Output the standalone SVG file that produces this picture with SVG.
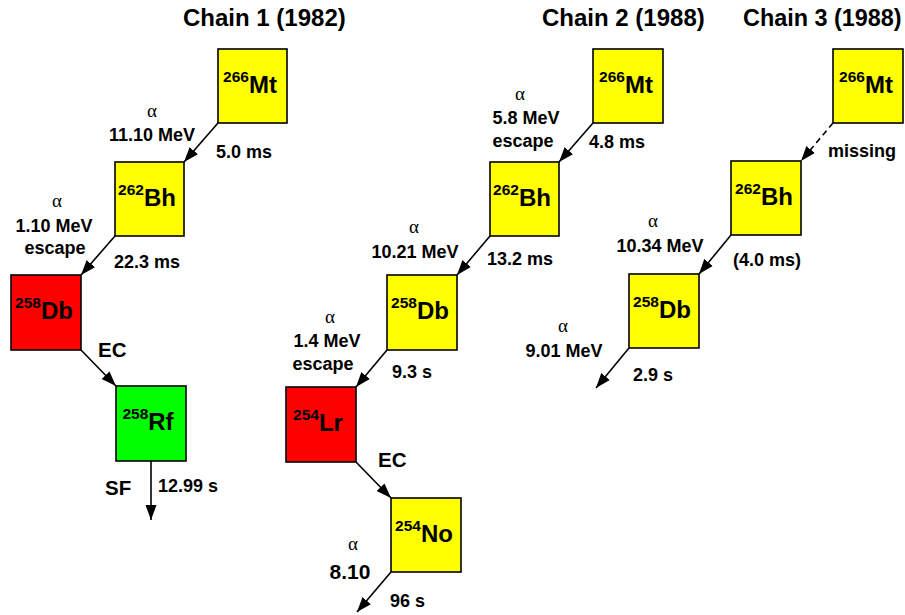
<svg xmlns="http://www.w3.org/2000/svg" width="905" height="615" viewBox="0 0 905 615">
<style>
text{font-family:"Liberation Sans",Arial,sans-serif;font-weight:bold;fill:#000}
.t{font-size:24px}
.l{font-size:18px}
.b{font-size:20.5px}
.m{text-anchor:middle}
.a{font-family:"Liberation Serif","Times New Roman",serif;font-weight:normal;font-size:19px;text-anchor:middle}
.box{stroke:#000;stroke-width:1.6}
.y{fill:#ffff00}.r{fill:#ff0000}.g{fill:#00ff00}
.n{font-size:24px;text-anchor:middle}
.s{font-size:15.5px}
.c line{stroke:#000;stroke-width:1.6;marker-end:url(#ah)}
.d{stroke-dasharray:6 4}
</style>
<defs>
<marker id="ah" markerUnits="userSpaceOnUse" markerWidth="16" markerHeight="12" viewBox="0 -6 16 12" refX="15" refY="0" orient="auto">
<path d="M0,-5.5 L15,0 L0,5.5 z" fill="#000"/>
</marker>
</defs>
<rect width="905" height="615" fill="#fff"/>
<text class="t" x="183" y="26">Chain 1 (1982)</text>
<text class="t" x="542" y="26">Chain 2 (1988)</text>
<text class="t" x="743" y="26" style="font-size:23.4px">Chain 3 (1988)</text>

<g id="c1-mt"><rect class="box y" x="218" y="49" width="69" height="74"/><text class="n" x="250" y="93"><tspan class="s" dy="-11">266</tspan><tspan dy="11">Mt</tspan></text></g>
<g id="c1-bh"><rect class="box y" x="115" y="162" width="69" height="74"/><text class="n" x="147" y="206"><tspan class="s" dy="-11">262</tspan><tspan dy="11">Bh</tspan></text></g>
<g id="c1-db"><rect class="box r" x="11" y="275" width="70" height="75"/><text class="n" x="44" y="319"><tspan class="s" dy="-11">258</tspan><tspan dy="11">Db</tspan></text></g>
<g id="c1-rf"><rect class="box g" x="116" y="386" width="70" height="75"/><text class="n" x="148" y="430"><tspan class="s" dy="-11">258</tspan><tspan dy="11">Rf</tspan></text></g>

<g id="c2-mt"><rect class="box y" x="593" y="49" width="70" height="74"/><text class="n" x="626" y="93"><tspan class="s" dy="-11">266</tspan><tspan dy="11">Mt</tspan></text></g>
<g id="c2-bh"><rect class="box y" x="490" y="162" width="69" height="74"/><text class="n" x="522" y="206"><tspan class="s" dy="-11">262</tspan><tspan dy="11">Bh</tspan></text></g>
<g id="c2-db"><rect class="box y" x="387" y="275" width="70" height="75"/><text class="n" x="420" y="319"><tspan class="s" dy="-11">258</tspan><tspan dy="11">Db</tspan></text></g>
<g id="c2-lr"><rect class="box r" x="286" y="387" width="70" height="75"/><text class="n" x="318" y="431"><tspan class="s" dy="-11">254</tspan><tspan dy="11">Lr</tspan></text></g>
<g id="c2-no"><rect class="box y" x="391" y="498" width="70" height="74"/><text class="n" x="424" y="542"><tspan class="s" dy="-11">254</tspan><tspan dy="11">No</tspan></text></g>

<g id="c3-mt"><rect class="box y" x="833" y="49" width="70" height="74"/><text class="n" x="866" y="93"><tspan class="s" dy="-11">266</tspan><tspan dy="11">Mt</tspan></text></g>
<g id="c3-bh"><rect class="box y" x="731" y="161" width="70" height="74"/><text class="n" x="764" y="205"><tspan class="s" dy="-11">262</tspan><tspan dy="11">Bh</tspan></text></g>
<g id="c3-db"><rect class="box y" x="629" y="274" width="70" height="74"/><text class="n" x="662" y="318"><tspan class="s" dy="-11">258</tspan><tspan dy="11">Db</tspan></text></g>

<g id="connectors" class="c">
<line x1="218" y1="123" x2="184" y2="162"/>
<line x1="115" y1="236" x2="81" y2="275"/>
<line x1="81" y1="350" x2="116" y2="386"/>
<line x1="151" y1="461" x2="151" y2="520"/>
<line x1="593" y1="123" x2="559" y2="162"/>
<line x1="490" y1="236" x2="457" y2="275"/>
<line x1="387" y1="350" x2="356" y2="387"/>
<line x1="356" y1="462" x2="391" y2="498"/>
<line x1="391" y1="572" x2="357" y2="612"/>
<line class="d" x1="833" y1="123" x2="801" y2="161"/>
<line x1="731" y1="235" x2="699" y2="274"/>
<line x1="629" y1="348" x2="596" y2="388"/>
</g>

<g id="labels">
<text class="a" x="152" y="117">α</text>
<text class="l m" x="152" y="141">11.10 MeV</text>
<text class="l" x="216" y="158">5.0 ms</text>
<text class="a" x="57" y="207">α</text>
<text class="l m" x="54" y="232">1.10 MeV</text>
<text class="l m" x="55" y="254">escape</text>
<text class="l" x="114" y="268">22.3 ms</text>
<text class="b" x="98" y="357">EC</text>
<text class="b" x="105" y="495">SF</text>
<text class="l" x="158" y="492">12.99 s</text>

<text class="a" x="520" y="100">α</text>
<text class="l m" x="526" y="124">5.8 MeV</text>
<text class="l m" x="523" y="147">escape</text>
<text class="l" x="589" y="148">4.8 ms</text>
<text class="a" x="414" y="233">α</text>
<text class="l m" x="415" y="258">10.21 MeV</text>
<text class="l" x="487" y="265">13.2 ms</text>
<text class="a" x="330" y="323">α</text>
<text class="l m" x="327" y="347">1.4 MeV</text>
<text class="l m" x="323" y="370">escape</text>
<text class="l" x="392" y="378">9.3 s</text>
<text class="b" x="378" y="467">EC</text>
<text class="a" x="353" y="550">α</text>
<text class="m" style="font-size:21px" x="350" y="579">8.10</text>
<text class="l" x="390" y="607">96 s</text>

<text class="l" x="828" y="157">missing</text>
<text class="a" x="653" y="227">α</text>
<text class="l m" x="660" y="252">10.34 MeV</text>
<text class="l" x="733" y="266">(4.0 ms)</text>
<text class="a" x="563" y="332">α</text>
<text class="l m" x="564" y="357">9.01 MeV</text>
<text class="l" x="633" y="381">2.9 s</text>
</g>
</svg>
